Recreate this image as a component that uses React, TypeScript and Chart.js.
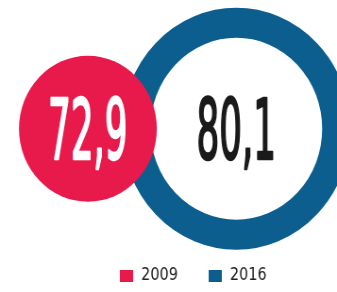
import React, { useEffect, useRef } from "react";
import { Chart, registerables } from "chart.js";

Chart.register(...registerables);

// ---- data ----
const categories = ["2009", "2016"];
const values = [72.9, 80.1];

// ---- styles ----
const RED = "#E8194B";
const BLUE = "#0B5E8E";
const fillColors = [RED, "#FFFFFF"];
const borderColors = [RED, BLUE];
const legendColors = [RED, BLUE];
const valueTextColors = ["#FFFFFF", "#1A1A1A"];
const radii = [73, 106];
const ringWidths = [0, 30];

const INTERNAL_W = 357;
const INTERNAL_H = 292;
const DISPLAY_W = 337;
const FONT = "'Liberation Sans Narrow', 'DejaVu Sans Condensed', 'DejaVu Sans', sans-serif";
const VALUE_FONT_SIZE = 84;
const VALUE_TEXT_WIDTH = 84;

const fmt = (v: number) => v.toFixed(1).replace(".", ",");

const valueLabels = {
  id: "valueLabels",
  afterDatasetsDraw(chart: any) {
    const ctx: CanvasRenderingContext2D = chart.ctx;
    ctx.save();
    ctx.font = `normal ${VALUE_FONT_SIZE}px ${FONT}`;
    ctx.textAlign = "center";
    ctx.textBaseline = "alphabetic";
    ctx.lineJoin = "round";
    const m = ctx.measureText(fmt(values[0]));
    const sx = VALUE_TEXT_WIDTH / m.width;
    const asc = m.actualBoundingBoxAscent;
    chart.data.datasets.forEach((_ds: any, i: number) => {
      const el = chart.getDatasetMeta(i).data[0];
      if (!el) return;
      ctx.save();
      ctx.translate(el.x, el.y + asc / 2 - 1.5);
      ctx.scale(sx, 1);
      ctx.fillStyle = valueTextColors[i];
      ctx.strokeStyle = valueTextColors[i];
      ctx.lineWidth = 2.6;
      ctx.fillText(fmt(values[i]), 0, 0);
      ctx.strokeText(fmt(values[i]), 0, 0);
      ctx.restore();
    });
    ctx.restore();
  },
};

export default function App() {
  const ref = useRef<HTMLCanvasElement | null>(null);

  useEffect(() => {
    if (!ref.current) return;
    const chart = new Chart(ref.current, {
      type: "bubble",
      data: {
        datasets: categories.map((c, i) => ({
          label: c,
          data: [{ x: i, y: 0 }],
          backgroundColor: fillColors[i],
          borderColor: borderColors[i],
          borderWidth: ringWidths[i],
          radius: radii[i],
          hoverRadius: 0,
          clip: false as any,
        })),
      },
      options: {
        responsive: false,
        animation: false,
        devicePixelRatio: 1,
        events: [],
        layout: { autoPadding: false, padding: { left: 52.4, right: 0, top: 0, bottom: 0 } },
        scales: {
          x: { type: "linear", display: false, min: -0.2589, max: 1.6788 },
          y: { type: "linear", display: false, min: -1, max: 1.2129 },
        },
        plugins: {
          tooltip: { enabled: false },
          legend: {
            display: true,
            position: "bottom",
            maxHeight: 57.1,
            labels: {
              padding: 32.6,
              boxWidth: 14,
              boxHeight: 12,
              color: "#222222",
              font: { family: FONT, size: 17, weight: "normal" },
              generateLabels: () =>
                categories.map((c, i) => ({
                  text: c,
                  fillStyle: legendColors[i],
                  strokeStyle: legendColors[i],
                  lineWidth: 0,
                  hidden: false,
                  datasetIndex: i,
                  fontColor: "#222222",
                })),
            },
          },
        },
      } as any,
      plugins: [valueLabels],
    });
    return () => chart.destroy();
  }, []);

  return (
    <div style={{ position: "fixed", left: 0, top: 0, width: DISPLAY_W, height: INTERNAL_H, background: "#fff" }}>
      <canvas
        ref={ref}
        width={INTERNAL_W}
        height={INTERNAL_H}
        style={{ width: `${DISPLAY_W}px`, height: `${INTERNAL_H}px`, display: "block" }}
      />
    </div>
  );
}
